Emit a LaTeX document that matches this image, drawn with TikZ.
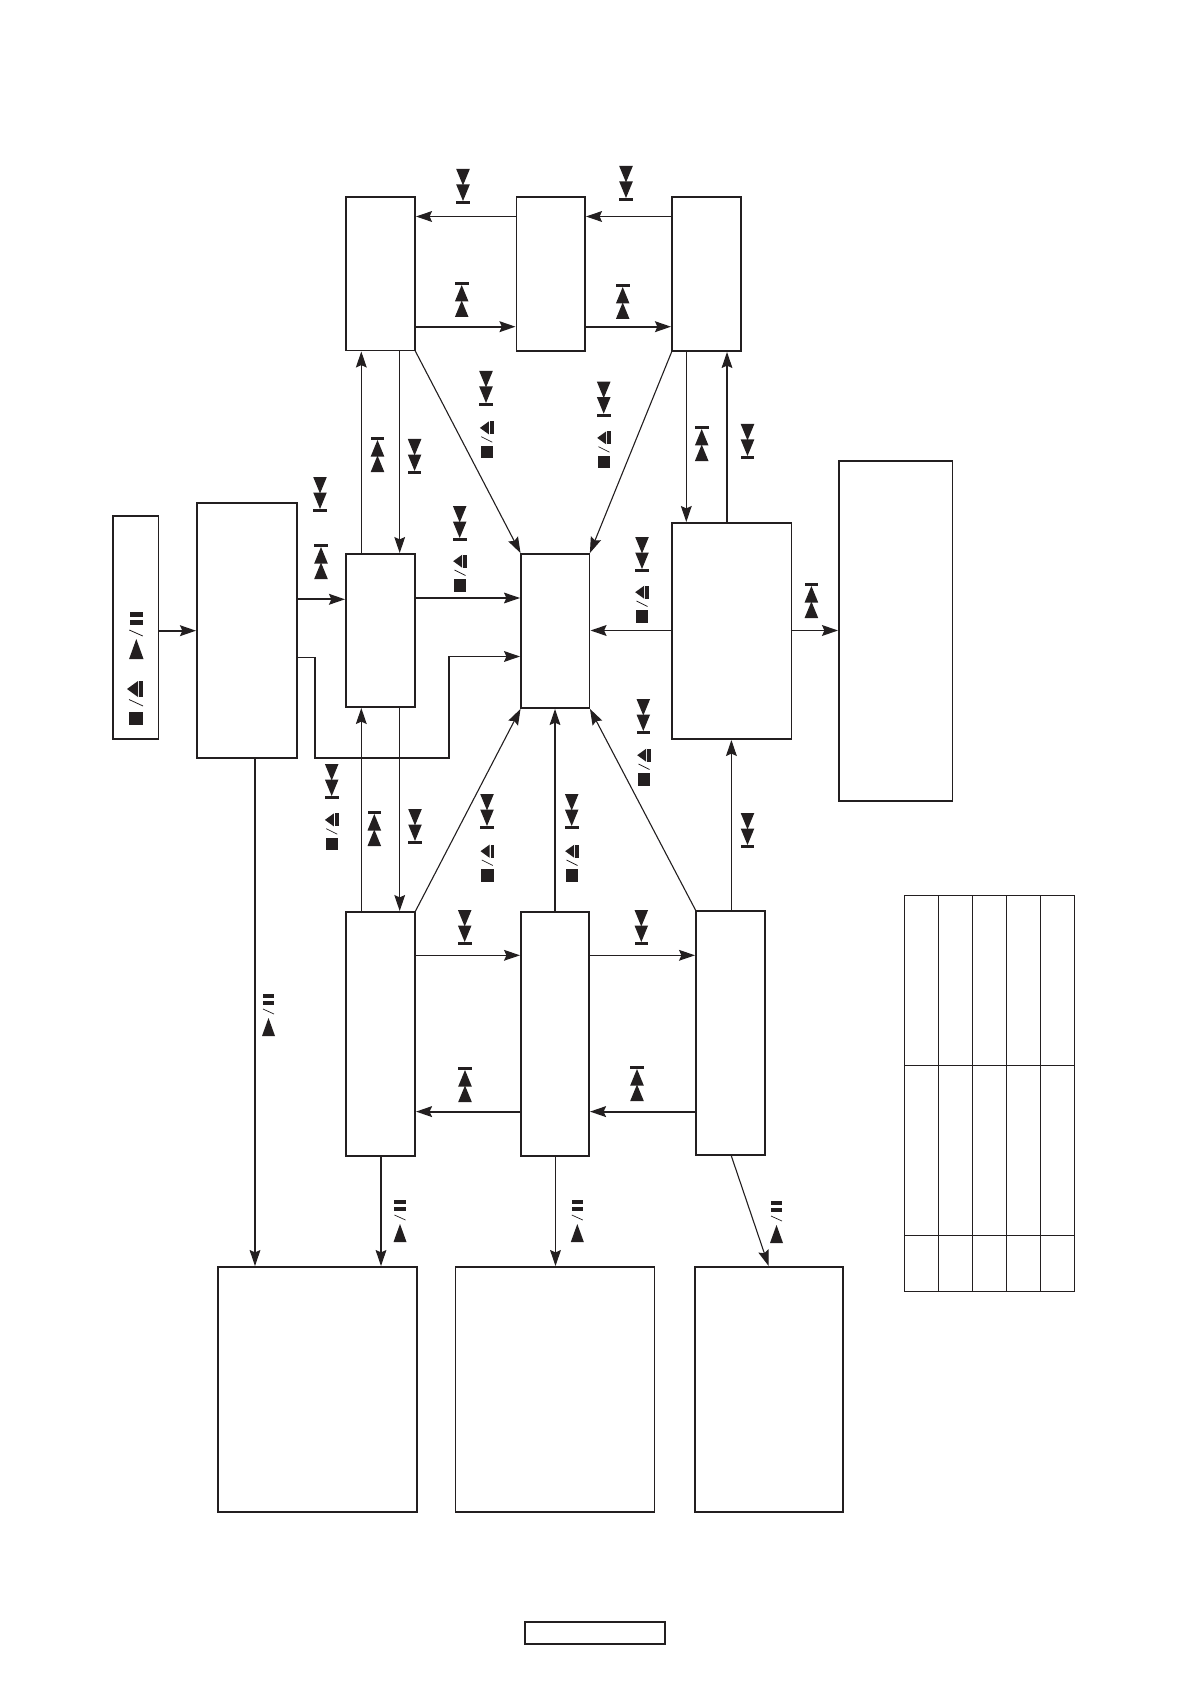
\documentclass[tikz,border=0pt]{standalone}
\usetikzlibrary{arrows.meta}
\definecolor{ink}{HTML}{231F20}
\tikzset{
  box/.style={draw=ink,line width=0.55pt,inner sep=0pt,outer sep=0pt,anchor=north west,fill=white},
  boxthick/.style={box,line width=0.7pt},
  arr/.style={draw=ink,line width=0.55pt,-{Stealth[length=8pt,width=5.4pt,inset=1.2pt]},shorten >=0.5pt},
  arrthick/.style={arr,line width=0.9pt},
  skipdn/.pic={
    \fill[ink] (-6.8,0) -- (6.8,0) -- (0,16.5) -- cycle;
    \fill[ink] (-6.8,15.5) -- (6.8,15.5) -- (0,32) -- cycle;
    \fill[ink] (-6.8,32) rectangle (6.8,35);
  },
  skipup/.pic={
    \fill[ink] (-6.8,0) rectangle (6.8,3);
    \fill[ink] (-6.8,19.5) -- (6.8,19.5) -- (0,3) -- cycle;
    \fill[ink] (-6.8,35) -- (6.8,35) -- (0,18.5) -- cycle;
  },
  stopej/.pic={
    \fill[ink] (-6.8,6.2) -- (2.2,-0.3) -- (2.2,12.7) -- cycle;
    \fill[ink] (3.2,-0.3) rectangle (6.8,12.7);
    \draw[ink,line width=0.35pt] (-5.5,15) -- (5.5,20.5);
    \fill[ink] (-6.2,24) rectangle (6.2,36.5);
  },
  stopejbig/.pic={
    \fill[ink] (-9,8) -- (2,0) -- (2,16) -- cycle;
    \fill[ink] (3,0) rectangle (7,16);
    \draw[ink,line width=0.4pt] (-7,18.5) -- (7,25);
    \fill[ink] (-7,30.5) rectangle (7,44);
  },
  pauseplay/.pic={
    \fill[ink] (-6.5,0) rectangle (6.5,4.8);
    \fill[ink] (-6.5,8) rectangle (6.5,13);
    \draw[ink,line width=0.4pt] (-7,18) -- (6.5,24);
    \fill[ink] (-7.2,47) -- (7.2,47) -- (0,27) -- cycle;
  },
  pauseplaysm/.pic={
    \fill[ink] (-5.8,0) rectangle (5.8,4.2);
    \fill[ink] (-5.8,6.5) rectangle (5.8,10.7);
    \draw[ink,line width=0.35pt] (-5.5,15) -- (5.5,20);
    \fill[ink] (-6.5,42) -- (6.5,42) -- (0,24) -- cycle;
  },
}
\newcommand{\bx}[6][box]{\node[#1,minimum width={(#5-#3)*0.5pt},minimum height={(#6-#4)*0.5pt}] (#2) at (#3,#4) {};}
\begin{document}
\begin{tikzpicture}[x=0.5pt,y=-0.5pt]
\useasboundingbox (0,0) rectangle (1190,1684);
\fill[white] (0,0) rectangle (1190,1684);
% boxes
\bx[boxthick]{remote}{113}{516}{158.5}{739}
\bx[boxthick]{mode}{197}{503}{297}{758}
\bx{cl}{346}{554}{415}{707}
\bx{tl}{346}{197}{415}{350.5}
\bx{tm}{516.5}{197}{585}{351}
\bx{tr}{672}{197}{741}{351}
\bx[boxthick]{cc}{521}{554}{589.5}{708}
\bx{rm}{672}{523}{791.5}{739}
\bx[boxthick]{far}{839}{461}{952.5}{801}
\bx{bl}{346}{912}{415}{1156}
\bx[boxthick]{bm}{521}{912}{589}{1156}
\bx[boxthick]{br}{696}{911}{765}{1155}
\bx{bigA}{218}{1267}{417}{1512}
\bx{bigB}{455.5}{1267}{654.5}{1512}
\bx{bigC}{695}{1267}{843}{1512}
\bx{foot}{525}{1622}{665}{1644}
% table
\draw[ink,line width=0.5pt] (904.3,895) rectangle (1074.3,1291);
\foreach \cx in {938.3,972.3,1006.3,1040.3} \draw[ink,line width=0.5pt] (\cx,895) -- (\cx,1291);
\foreach \cy in {1065,1235} \draw[ink,line width=0.5pt] (904.3,\cy) -- (1074.3,\cy);
% connectors
\draw[arrthick] (remote.east |- 0,630.7) -- (mode.west |- 0,630.7);
\draw[arrthick] (mode.east |- 0,599.3) -- (cl.west |- 0,599.3);
\draw[arr] (mode.east |- 0,657.3) -- (315,657.3) -- (315,758) -- (449,758) -- (449,656.5) -- (cc.west |- 0,656.5);
\draw[arr] (cl.east |- 0,598) -- (cc.west |- 0,598);
\draw[arrthick] (rm.west |- 0,630.5) -- (cc.east |- 0,630.5);
\draw[arrthick] (rm.east |- 0,630.5) -- (far.west |- 0,630.5);
\draw[arrthick] (tl.east |- 0,326.7) -- (tm.west |- 0,326.7);
\draw[arrthick] (tm.east |- 0,326.7) -- (tr.west |- 0,326.7);
\draw[arr] (tm.west |- 0,216.5) -- (tl.east |- 0,216.5);
\draw[arr] (tr.west |- 0,216.5) -- (tm.east |- 0,216.5);
\draw[arr] (cl.north -| 361.3,0) -- (tl.south -| 361.3,0);
\draw[arr] (tl.south -| 399.7,0) -- (cl.north -| 399.7,0);
\draw[arr] (tl.south east) -- (cc.north west);
\draw[arr] (tr.south west) -- (cc.north east);
\draw[arr] (tr.south -| 686.3,0) -- (rm.north -| 686.3,0);
\draw[arr] (rm.north -| 727,0) -- (tr.south -| 727,0);
\draw[arr] (bl.north -| 361.3,0) -- (cl.south -| 361.3,0);
\draw[arr] (cl.south -| 399.7,0) -- (bl.north -| 399.7,0);
\draw[arr] (bl.north east) -- (cc.south west);
\draw[arr] (bm.north -| 555,0) -- (cc.south -| 555,0);
\draw[arr] (br.north west) -- (cc.south east);
\draw[arr] (br.north -| 731.4,0) -- (rm.south -| 731.4,0);
\draw[arr] (bl.east |- 0,955.3) -- (bm.west |- 0,955.3);
\draw[arr] (bm.east |- 0,955.3) -- (br.west |- 0,955.3);
\draw[arrthick] (bm.west |- 0,1111.6) -- (bl.east |- 0,1111.6);
\draw[arrthick] (br.west |- 0,1111.6) -- (bm.east |- 0,1111.6);
\draw[arr] (mode.south -| 255,0) -- (bigA.north -| 255,0);
\draw[arr] (bl.south -| 381,0) -- (bigA.north -| 381,0);
\draw[arr] (bm.south -| 555.5,0) -- (bigB.north -| 555.5,0);
\draw[arr] (br.south -| 731,0) -- (bigC.north -| 769,0);
% symbols
\foreach \px/\py in {463/169,626/166,486/371,603.7/381.7,414.6/439,320/477,459.7/506,642/537,643.3/699,331.7/764,415/809,487/794,571.7/794,464.7/910,641.3/910,747.5/424,747.5/813}
  \pic at (\px,\py) {skipdn};
\foreach \px/\py in {461.7/282,622.7/284,701.7/426,377.5/437,321/544,374.3/811,811.4/583,465/1067,637/1066}
  \pic at (\px,\py) {skipup};
\foreach \px/\py in {486.7/421.7,604/431.7,460/555,642/586,644/749,331.7/813.7,487.3/845,572/845}
  \pic at (\px,\py) {stopej};
\pic at (136,681) {stopejbig};
\pic at (136.3,612) {pauseplay};
\foreach \px/\py in {268.5/994,400/1200,577.3/1200,776.5/1201}
  \pic at (\px,\py) {pauseplaysm};
\end{tikzpicture}
\end{document}
